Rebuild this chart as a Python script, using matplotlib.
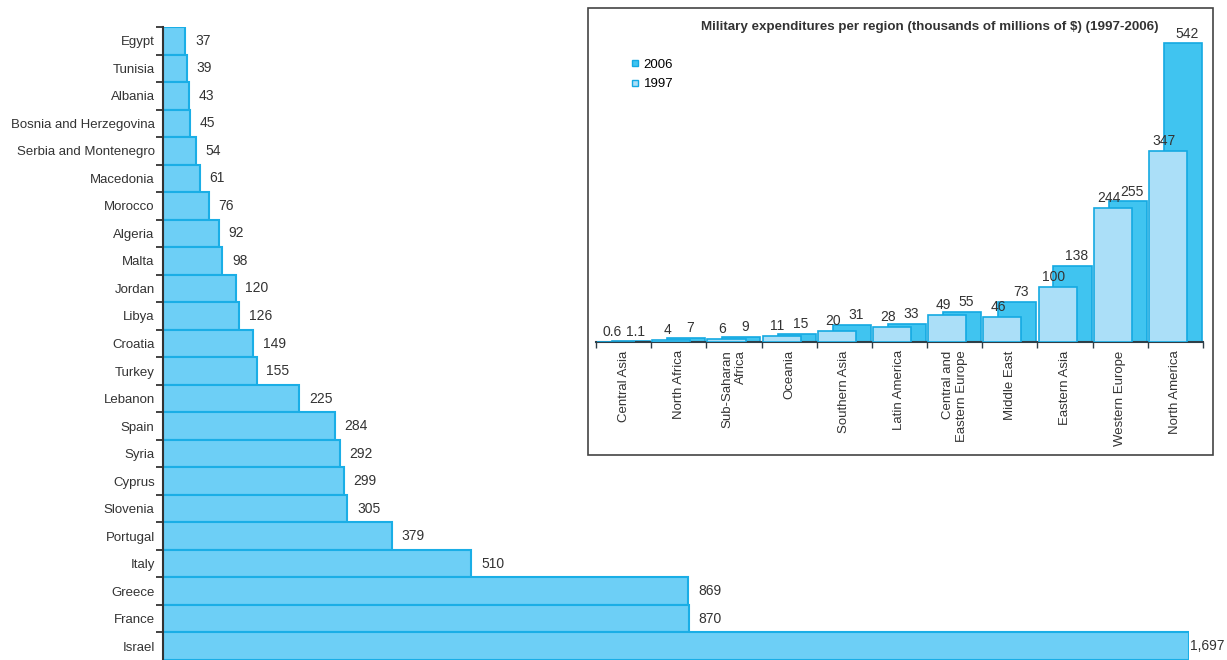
import matplotlib
matplotlib.use('Agg')
import matplotlib.pyplot as plt
from matplotlib.patches import Rectangle
from matplotlib.lines import Line2D

plt.rcParams['font.family'] = ['Liberation Sans', 'DejaVu Sans']

# 主图数据：国家与数值
countries = ['Egypt', 'Tunisia', 'Albania', 'Bosnia and Herzegovina', 'Serbia and Montenegro',
             'Macedonia', 'Morocco', 'Algeria', 'Malta', 'Jordan', 'Libya', 'Croatia', 'Turkey',
             'Lebanon', 'Spain', 'Syria', 'Cyprus', 'Slovenia', 'Portugal', 'Italy', 'Greece',
             'France', 'Israel']
values = [37, 39, 43, 45, 54, 61, 76, 92, 98, 120, 126, 149, 155, 225, 284, 292, 299, 305,
          379, 510, 869, 870, 1697]

# 嵌入图数据：地区军费
regions = ['Central Asia', 'North Africa', 'Sub-Saharan\nAfrica', 'Oceania', 'Southern Asia',
           'Latin America', 'Central and\nEastern Europe', 'Middle East', 'Eastern Asia',
           'Western Europe', 'North America']
exp_1997 = [0.6, 4, 6, 11, 20, 28, 49, 46, 100, 244, 347]
exp_2006 = [1.1, 7, 9, 15, 31, 33, 55, 73, 138, 255, 542]
labels_1997 = ['0.6', '4', '6', '11', '20', '28', '49', '46', '100', '244', '347']
labels_2006 = ['1.1', '7', '9', '15', '31', '33', '55', '73', '138', '255', '542']

W, H = 1227, 660
fig = plt.figure(figsize=(W / 100, H / 100), dpi=100)

bar_fill = '#6dcff6'
bar_edge = '#1aaee6'
txt = '#333333'

# -----------------------------
# 主图：横向条形
ax = fig.add_axes([163 / W, 0, (1189 - 163) / W, 633 / H])
ypos = list(range(len(countries)))
ax.barh(ypos, values, height=1.0, color=bar_fill, edgecolor=bar_edge, linewidth=1.5)
ax.set_ylim(len(countries) - 0.5, -0.5)
ax.set_xlim(0, 1697)
ax.set_yticks(ypos)
ax.set_yticklabels(countries, fontsize=9.5, color=txt)
ax.set_yticks([i - 0.5 for i in range(len(countries))], minor=True)
ax.tick_params(axis='y', which='major', length=0, pad=6)
ax.tick_params(axis='y', which='minor', length=5, width=1.2, color='#222222')
ax.set_xticks([])
for s in ['top', 'right', 'bottom']:
    ax.spines[s].set_visible(False)
ax.spines['left'].set_color('#333333')
ax.spines['left'].set_linewidth(1.5)

for i, v in enumerate(values):
    lab = f'{v:,}'
    off = 1 if i == len(values) - 1 else 7
    ax.annotate(lab, (v, i), xytext=(off, 0), textcoords='offset points',
                va='center', ha='left', fontsize=10, color=txt, annotation_clip=False)

# -----------------------------
# 嵌入图：地区对比
frame = Rectangle((588 / W, (H - 455) / H), 625 / W, 447 / H, transform=fig.transFigure,
                  fill=False, edgecolor='#444444', linewidth=1.2)
fig.patches.append(frame)

axi = fig.add_axes([596 / W, (H - 342) / H, (1203 - 596) / W, 312 / H])
n = len(regions)
xc = [i + 0.5 for i in range(n)]
x97 = [c - 0.135 for c in xc]
x06 = [c + 0.135 for c in xc]
axi.bar(x06, exp_2006, width=0.69, color='#40c4f0', edgecolor='#14a9e2', linewidth=1.2, zorder=2)
axi.bar(x97, exp_1997, width=0.69, color='#abdff8', edgecolor='#14a9e2', linewidth=1.2, zorder=3)
axi.set_xlim(0, n)
axi.set_ylim(0, 312 / 0.551)

for x, v, l in zip(x97, exp_1997, labels_1997):
    axi.annotate(l, (x, v), xytext=(-3, 2), textcoords='offset points', ha='center', va='bottom',
                 fontsize=10, color=txt, zorder=5)
for x, v, l in zip(x06, exp_2006, labels_2006):
    axi.annotate(l, (x, v), xytext=(3, 2), textcoords='offset points', ha='center', va='bottom',
                 fontsize=10, color=txt, zorder=5)

axi.set_xticks(range(n + 1))
axi.set_xticklabels([])
axi.set_xticks(xc, minor=True)
axi.set_xticklabels(regions, minor=True, rotation=90, fontsize=9.5, color=txt,
                    va='top', ha='center', multialignment='right')
axi.tick_params(axis='x', which='major', length=4, width=1, color='#2f3f48')
axi.tick_params(axis='x', which='minor', length=0, pad=6)
axi.set_yticks([])
for s in ['top', 'right', 'left']:
    axi.spines[s].set_visible(False)
axi.spines['bottom'].set_color('#2f3f48')
axi.spines['bottom'].set_linewidth(1.5)
axi.patch.set_alpha(0)

fig.text(930 / W, (H - 27) / H,
         'Military expenditures per region (thousands of millions of $) (1997-2006)',
         ha='center', va='center', fontsize=9.6, fontweight='bold', color=txt)

handles = [Line2D([], [], marker='s', linestyle='none', markersize=5,
                  markerfacecolor='#40c4f0', markeredgecolor='#14a9e2'),
           Line2D([], [], marker='s', linestyle='none', markersize=5,
                  markerfacecolor='#abdff8', markeredgecolor='#14a9e2')]
fig.legend(handles, ['2006', '1997'], loc='upper left',
           bbox_to_anchor=(624 / W, (H - 52) / H), frameon=False, fontsize=9.5,
           handlelength=0.6, handletextpad=0.4, labelspacing=0.55, borderpad=0)

fig.savefig('out.png', dpi=100)
